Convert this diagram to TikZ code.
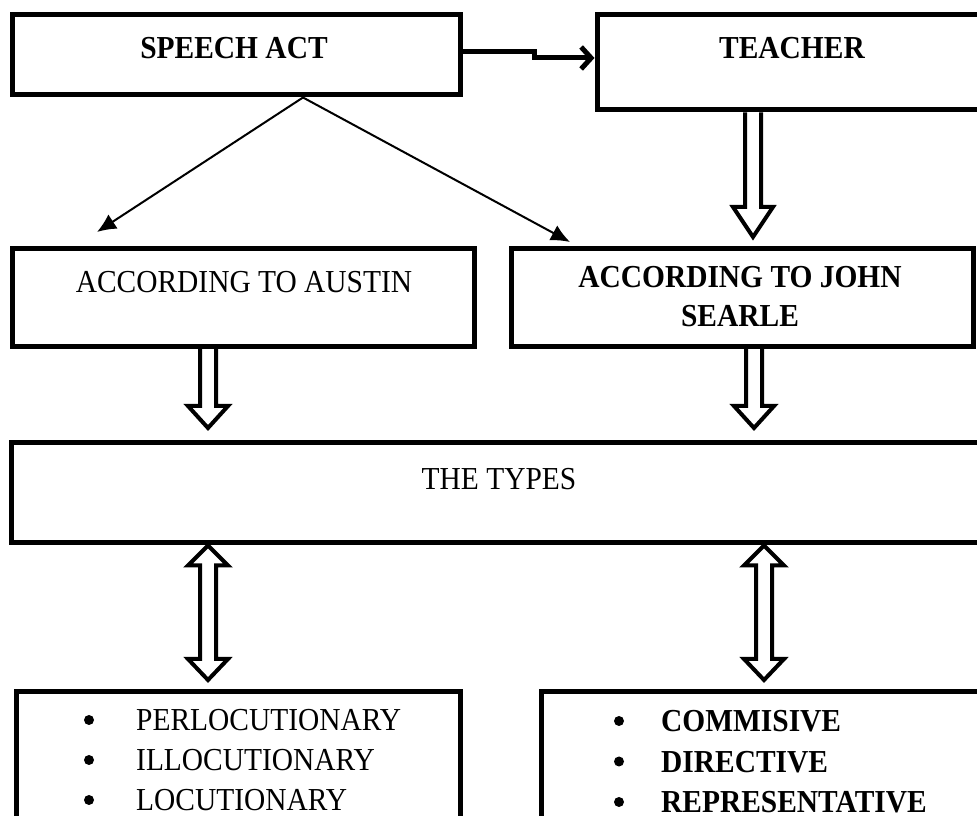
\documentclass[tikz,border=0pt]{standalone}
\usepackage{fontspec}
\setmainfont{Liberation Serif}[FakeStretch=0.92]
\usetikzlibrary{positioning,arrows.meta,calc}

\begin{document}
\begin{tikzpicture}[x=1pt,y=1pt,
  box/.style={draw,line width=5pt,inner sep=0pt},
  txt/.style={font=\fontsize{32}{38}\selectfont,inner sep=0pt,anchor=base},
  btxt/.style={font=\fontsize{32}{38}\selectfont\bfseries,inner sep=0pt,anchor=base},
  dot/.style={circle,fill,inner sep=0pt,minimum size=10pt},
  thin arrow/.style={line width=2pt,-{Latex[length=19pt,width=17pt]}},
  fat/.style={line width=4pt,line join=miter,to path={
    let \p1=(\tikztostart), \p2=(\tikztotarget) in
    (\x1-8pt,\y1) -- (\x1-8pt,\y2+#1) -- (\x1-20pt,\y2+#1) -- (\x2,\y2)
    -- (\x1+20pt,\y2+#1) -- (\x1+8pt,\y2+#1) -- (\x1+8pt,\y1)}},
  fat/.default=22pt,
  fatboth/.style={line width=4pt,line join=miter,to path={
    let \p1=(\tikztostart), \p2=(\tikztotarget) in
    (\x1,\y1) -- (\x1-20pt,\y1-20pt) -- (\x1-8pt,\y1-20pt) -- (\x1-8pt,\y2+21pt)
    -- (\x1-20pt,\y2+21pt) -- (\x2,\y2) -- (\x1+20pt,\y2+21pt) -- (\x1+8pt,\y2+21pt)
    -- (\x1+8pt,\y1-20pt) -- (\x1+20pt,\y1-20pt) -- cycle}}]
\path[use as bounding box,fill=white] (0,0) rectangle (977,816);

% boxes
\node[box,minimum width=448pt,minimum height=80pt] (sp) at (236,761) {};
\node[box,minimum width=393pt,minimum height=95pt] (tea) at (793.5,753.5) {};
\node[box,minimum width=462pt,minimum height=98pt] (aus) at (243.5,518.5) {};
\node[box,minimum width=462pt,minimum height=98pt] (sea) at (742.5,518.5) {};
\node[box,minimum width=984pt,minimum height=100pt] (types) at (503,323) {};
\node[box,minimum width=444pt,minimum height=148pt] (austypes) at (238.5,50) {};
\node[box,minimum width=459pt,minimum height=148pt] (seatypes) at (771,50) {};

% texts
\node[btxt] (spT) at (234,757) {SPEECH ACT};
\node[btxt] (teaT) at (792,757) {TEACHER};
\node[txt] (ausT) at (244,523) {ACCORDING TO AUSTIN};
\node[btxt] (seaT) at (740,528) {ACCORDING TO JOHN};
\node[btxt] (seaT2) at (740,489) {SEARLE};
\node[txt] (typesT) at (499,326) {THE TYPES};

\foreach \i/\w in {0/PERLOCUTIONARY,1/ILLOCUTIONARY,2/LOCUTIONARY}{
  \node[dot] (lb\i) at (89,96-40*\i) {};
  \node[txt,anchor=base west] (lt\i) at (136,85-40*\i) {\w};
}
\foreach \i/\w in {0/COMMISIVE,1/DIRECTIVE,2/REPRESENTATIVE}{
  \node[dot] (rb\i) at (619,95-40.5*\i) {};
  \node[btxt,anchor=base west] (rt\i) at (661,84-40.5*\i) {\w};
}

% connectors
\draw[line width=5pt,-{Straight Barb[length=10pt,width=22pt]}]
  ([yshift=3pt]sp.east) -- ++(72,0) |- ([yshift=4.5pt]tea.west);

\coordinate (fork) at (303,0 |- sp.south);
\coordinate (tipA) at (97,584);
\coordinate (tipB) at (570,574);
\draw[thin arrow] (fork) -- (tipA);
\draw[thin arrow] (fork) -- (tipB);

\coordinate (tipT) at (753,579);
\coordinate (tipL) at (208,388);
\coordinate (tipR) at (754,388);
\draw[fat=30pt] (tea.south -| tipT) to (tipT);
\draw[fat] (aus.south -| tipL) to (tipL);
\draw[fat] (sea.south -| tipR) to (tipR);

\coordinate (endL) at (208,136);
\coordinate (endR) at (764,136);
\draw[fatboth] (types.south -| endL) to (endL);
\draw[fatboth] (types.south -| endR) to (endR);
\end{tikzpicture}
\end{document}
